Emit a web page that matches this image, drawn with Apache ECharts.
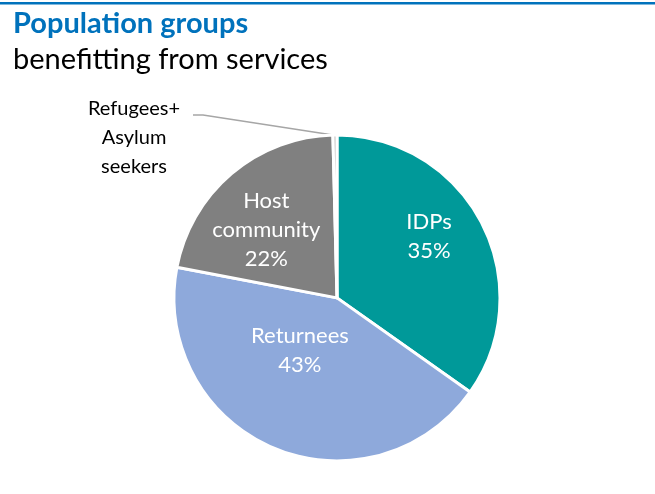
<!DOCTYPE html>
<html>
<head>
<meta charset="utf-8">
<script src="https://cdn.jsdelivr.net/npm/echarts@6/dist/echarts.min.js"></script>
<style>
html,body{margin:0;padding:0;background:#fff;}
#chart{width:655px;height:494px;}
</style>
</head>
<body>
<div id="chart"></div>
<script>
const categories = ['IDPs', 'Returnees', 'Host\ncommunity', 'Refugees+\nAsylum\nseekers'];
const values = [34.8, 43.2, 21.6, 0.4];
const percentLabels = ['35%', '43%', '22%', ''];
const colors = ['#009999', '#8EA9DB', '#808080', '#BFBFBF'];
const labelShift = [[17, -23], [-4, -25], [-16, -4], [0, 0]];

const chart = echarts.init(document.getElementById('chart'));
const FONT = 'Lato, "Open Sans", sans-serif';

const data = categories.map((c, i) => {
  const item = { name: c, value: values[i], itemStyle: { color: colors[i] } };
  if (i === 3) {
    item.label = {
      position: 'outside', color: '#000', fontSize: 20, lineHeight: 29,
      align: 'center', formatter: '{b}'
    };
    item.labelLine = { show: true, length: 8, length2: 8, lineStyle: { color: '#A6A6A6', width: 1.5 } };
  }
  return item;
});

chart.setOption({
  backgroundColor: '#fff',
  animation: false,
  title: {
    text: 'Population groups',
    subtext: 'benefitting from services',
    left: 8, top: 4,
    itemGap: 7,
    textStyle: { fontFamily: FONT, fontWeight: 'bold', fontSize: 29, color: '#0072BC' },
    subtextStyle: { fontFamily: FONT, fontSize: 29, color: '#000' }
  },
  graphic: [{
    type: 'rect', shape: { x: 0, y: 2, width: 655, height: 2.5 },
    style: { fill: '#0072BC' }, silent: true
  }],
  series: [{
    type: 'pie',
    center: ['51.45%', '60.3%'],
    radius: 163,
    startAngle: 90,
    clockwise: true,
    avoidLabelOverlap: false,
    minShowLabelAngle: 0,
    itemStyle: { borderColor: '#fff', borderWidth: 3 },
    label: {
      show: true, position: 'inside', color: '#fff', fontFamily: FONT,
      fontSize: 22, lineHeight: 29, align: 'center',
      formatter: p => p.name + '\n' + percentLabels[p.dataIndex]
    },
    labelLayout: p => {
      if (p.dataIndex === 3) {
        const lx = 134, ly = 138;
        const start = p.labelLinePoints ? p.labelLinePoints[0] : [336, 135];
        return {
          x: lx, y: ly, align: 'center', verticalAlign: 'middle',
          labelLinePoints: [[start[0] - 2, start[1]], [lx + 69, ly - 23], [lx + 59, ly - 23]]
        };
      }
      const s = labelShift[p.dataIndex];
      return { dx: s[0], dy: s[1] };
    },
    labelLine: { show: false },
    emphasis: { disabled: true },
    data: data
  }]
});
</script>
</body>
</html>
